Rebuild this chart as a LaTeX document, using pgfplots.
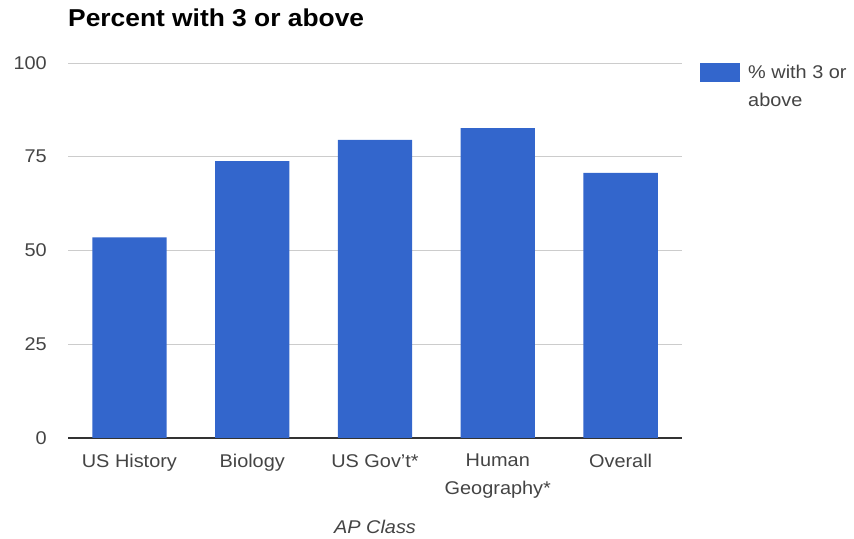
\documentclass[border=0pt]{standalone}
\usepackage{pgfplots}
\pgfplotsset{compat=1.18}
\usepackage{fontspec}
\setmainfont[FakeStretch=1.08]{Liberation Sans}

\definecolor{barblue}{HTML}{3366CC}
\definecolor{labelgray}{HTML}{444444}
\definecolor{gridgray}{HTML}{CCCCCC}
\definecolor{basegray}{HTML}{333333}

\pgfplotstableread{
idx pct
0   53.5
1   73.8
2   79.5
3   82.6
4   70.7
}\aptable

\begin{document}
\begin{tikzpicture}
\useasboundingbox (0,0) rectangle (854bp,539bp);
\begin{axis}[
  at={(68bp,101bp)}, anchor=south west,
  scale only axis, width=614bp, height=375bp,
  ybar, bar width=0.605,
  xmin=-0.5, xmax=4.5,
  ymin=0, ymax=100,
  xtick={0,1,2,3,4},
  xticklabels={US History, Biology, US Gov\char39 t*, {Human\\[2bp]Geography*}, Overall},
  ytick={0,25,50,75,100},
  /pgf/number format/assume math mode=true,
  axis x line=bottom, axis y line=left,
  x axis line style={draw=basegray, line width=1.2bp, -},
  y axis line style={draw=none},
  major tick length=0pt,
  ymajorgrids, grid style={draw=gridgray, line width=0.9bp},
  tick label style={font=\fontsize{18.5}{26}\selectfont, text=labelgray, inner sep=0pt},
  yticklabel style={anchor=east, xshift=-21bp},
  xticklabel style={anchor=north, align=center, yshift=-16bp},
  xlabel={AP Class},
  xlabel style={at={(axis description cs:0.5,0)}, anchor=base, yshift=-95bp,
    font=\fontsize{18.5}{22}\selectfont\itshape, text=labelgray, inner sep=0pt},
  title={Percent with 3 or above},
  title style={at={(axis description cs:0,1)}, anchor=base west, yshift=31bp,
    font=\fontsize{24.5}{29}\selectfont\bfseries, text=black, inner sep=0pt},
  legend style={at={(axis description cs:1.0293,1)}, anchor=north west,
    draw=none, fill=none, inner sep=0pt,
    font=\fontsize{18.5}{28}\selectfont, text=labelgray,
    /tikz/every odd column/.style={column sep=6bp}},
  legend image code/.code={\fill[barblue] (0bp,4.3bp) rectangle (40bp,23.3bp);},
]
\addplot[fill=barblue, draw=none] table[x=idx, y=pct] {\aptable};
\addlegendentry[align=left]{\% with 3 or\\above}
\end{axis}
\end{tikzpicture}
\end{document}
